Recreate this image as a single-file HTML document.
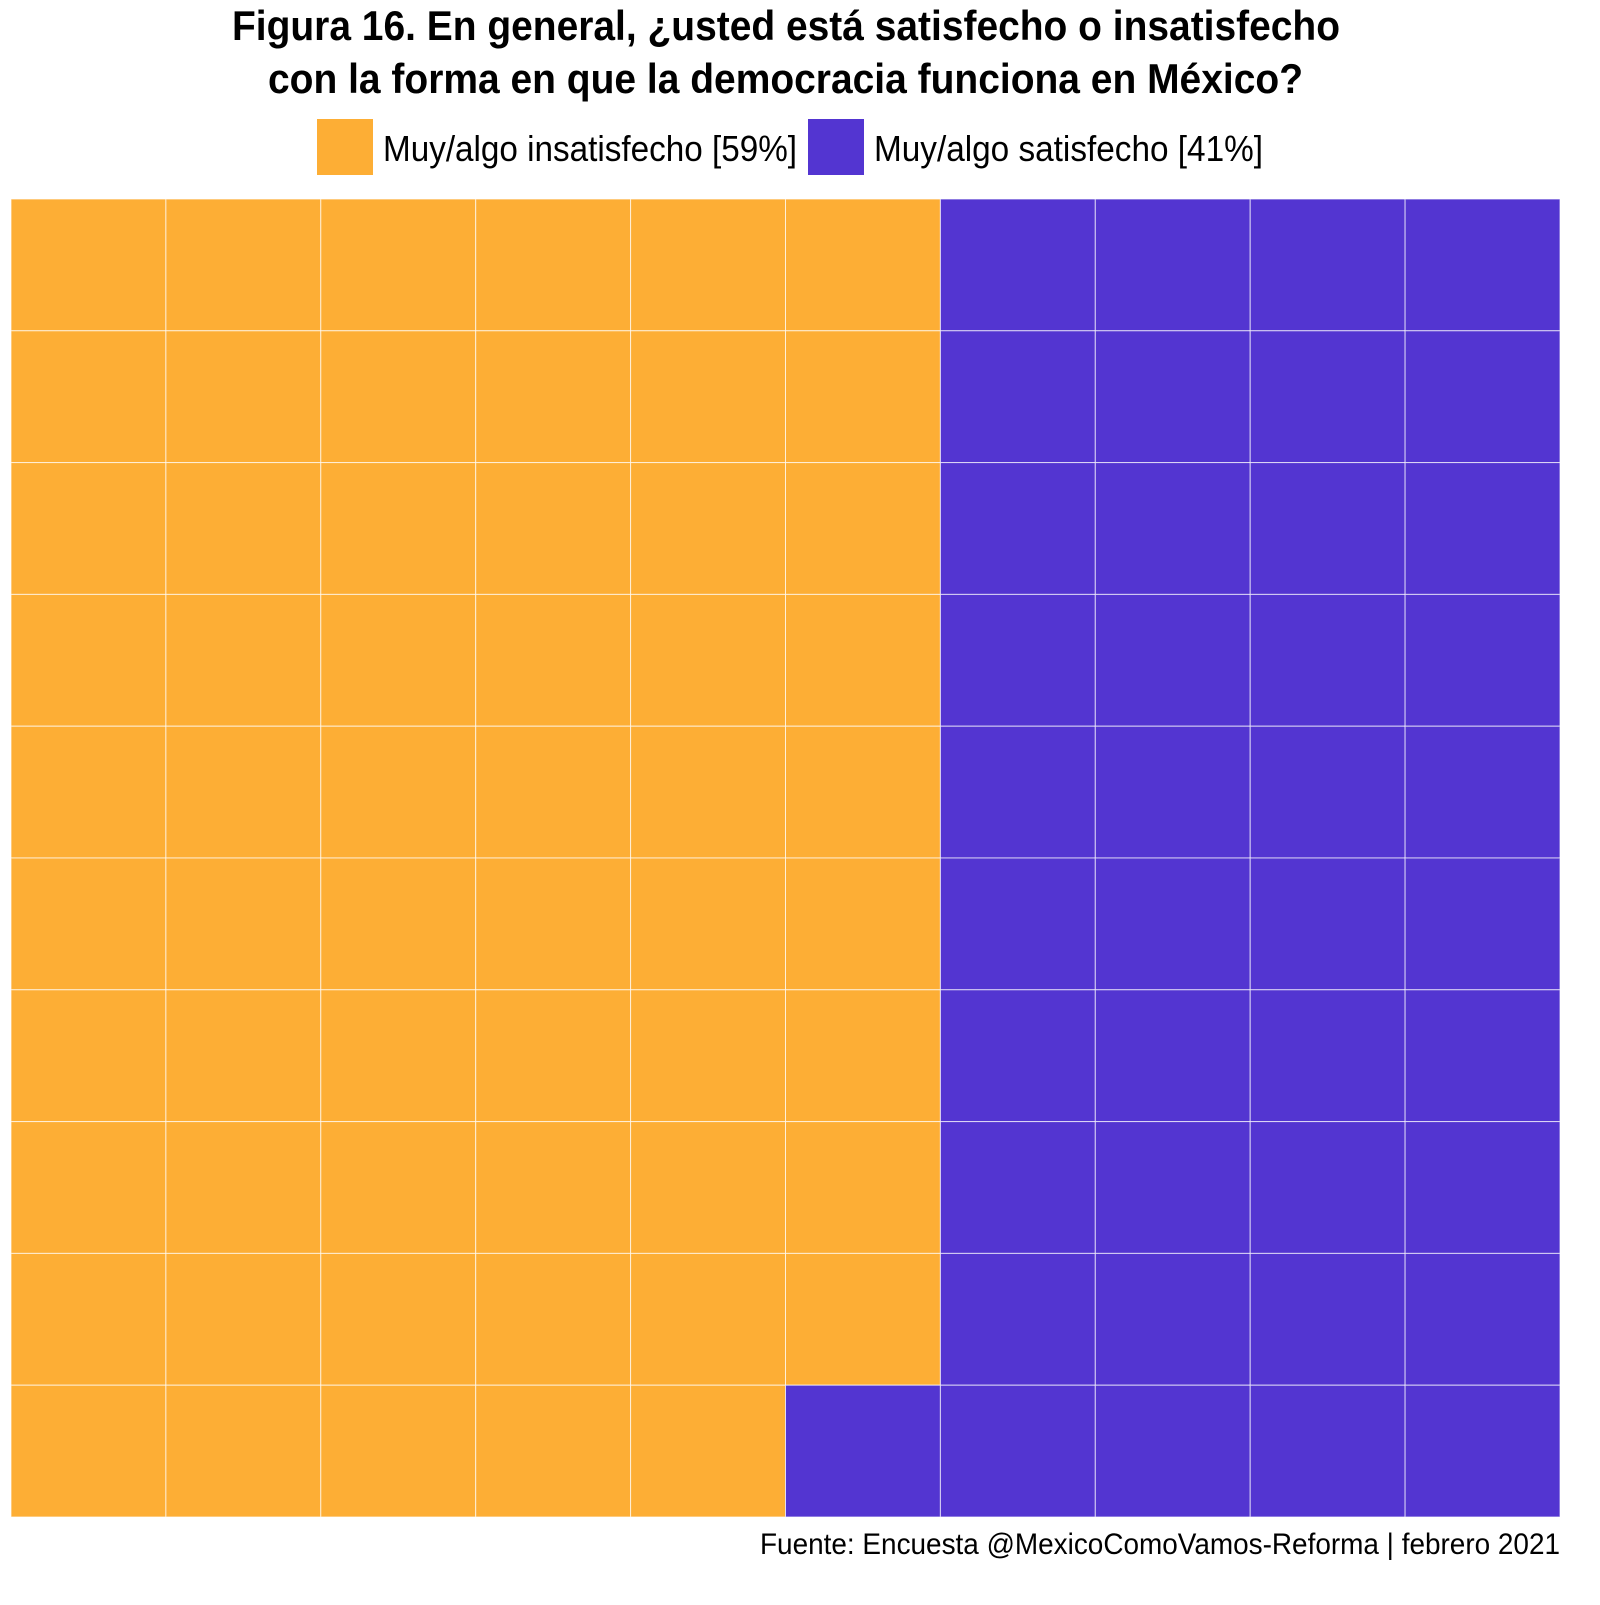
<!DOCTYPE html>
<html><head><meta charset="utf-8"><style>
body{margin:0;background:#fff;width:1600px;height:1600px;overflow:hidden;font-family:"Liberation Sans",sans-serif;}
</style></head><body>
<svg width="1600" height="1600" xmlns="http://www.w3.org/2000/svg">
<text x="232" y="40" textLength="1108" lengthAdjust="spacingAndGlyphs" font-size="42" font-weight="bold" font-family="Liberation Sans, sans-serif">Figura 16. En general, ¿usted está satisfecho o insatisfecho</text>
<text x="268" y="93" textLength="1035" lengthAdjust="spacingAndGlyphs" font-size="42" font-weight="bold" font-family="Liberation Sans, sans-serif">con la forma en que la democracia funciona en México?</text>
<g id="legend"></g>
<g id="cells"></g>
<text x="760" y="1554" textLength="800" lengthAdjust="spacingAndGlyphs" font-size="30" font-family="Liberation Sans, sans-serif">Fuente: Encuesta @MexicoComoVamos-Reforma | febrero 2021</text>
</svg>
<script>
const categories = ["Muy/algo insatisfecho", "Muy/algo satisfecho"];
const values = [59, 41];
const colors = ["#FDAE35", "#5335D1"];
const NS = "http://www.w3.org/2000/svg";
const x0 = 11, x1 = 1560, y0 = 199, y1 = 1517, ncol = 10, nrow = 10;
const cw = (x1 - x0) / ncol, ch = (y1 - y0) / nrow;
const g = document.getElementById("cells");
let idx = 0;
values.forEach((v, ci) => {
  for (let k = 0; k < v; k++, idx++) {
    const col = Math.floor(idx / nrow), row = idx % nrow;
    const r = document.createElementNS(NS, "rect");
    r.setAttribute("x", x0 + col * cw);
    r.setAttribute("y", y0 + row * ch);
    r.setAttribute("width", cw);
    r.setAttribute("height", ch);
    r.setAttribute("fill", colors[ci]);
    r.setAttribute("stroke", "#ffffff");
    r.setAttribute("stroke-opacity", "0.7");
    r.setAttribute("stroke-width", "1");
    
    
    g.appendChild(r);
  }
});
const lg = document.getElementById("legend");
const lx = [317, 808];
const lw = [414, 389];
categories.forEach((c, i) => {
  const r = document.createElementNS(NS, "rect");
  r.setAttribute("x", lx[i]); r.setAttribute("y", 119);
  r.setAttribute("width", 56); r.setAttribute("height", 56);
  r.setAttribute("fill", colors[i]);
  
  
  lg.appendChild(r);
  const t = document.createElementNS(NS, "text");
  t.setAttribute("x", lx[i] + 66); t.setAttribute("y", 161);
  t.setAttribute("font-size", "36");
  t.setAttribute("textLength", lw[i]);
  t.setAttribute("lengthAdjust", "spacingAndGlyphs");
  t.setAttribute("font-family", "Liberation Sans, sans-serif");
  t.textContent = c + " [" + values[i] + "%]";
  
  
  lg.appendChild(t);
});
</script>
</body></html>
